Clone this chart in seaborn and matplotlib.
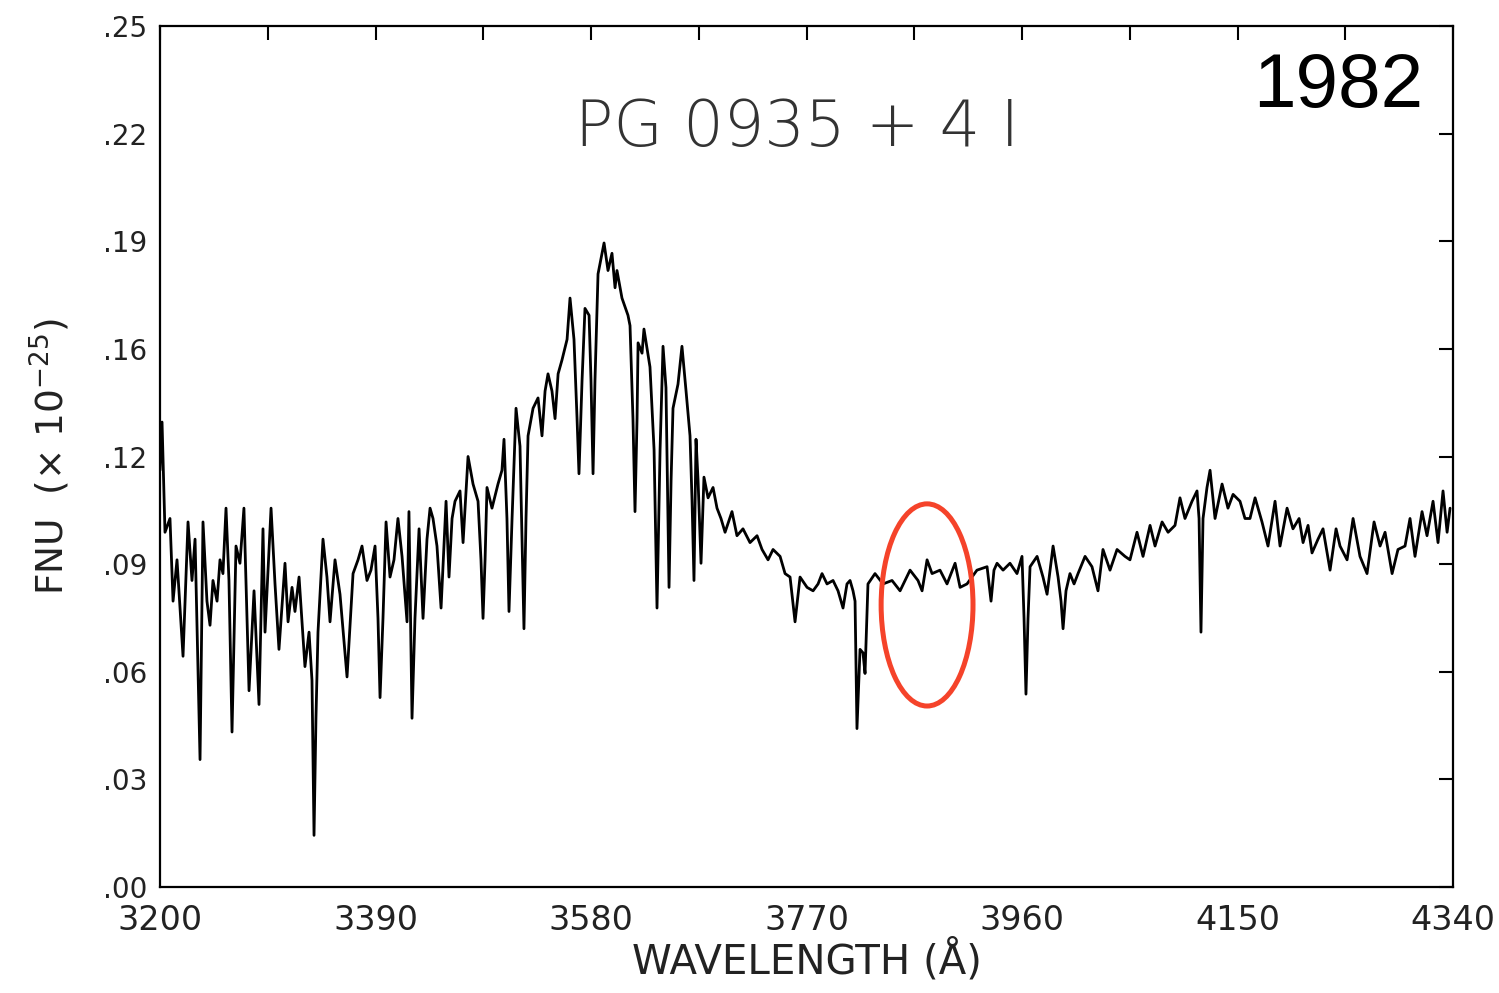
import numpy as np
import pandas as pd
import matplotlib
matplotlib.use("Agg")
import matplotlib.pyplot as plt
from matplotlib.patches import Ellipse
import seaborn as sns

# ---- data ----
wavelength = [
    3200.0, 3201.8, 3204.4, 3208.8, 3211.5, 3215.0, 3220.3, 3224.7, 3228.2, 3230.9,
    3235.3, 3237.9, 3241.4, 3244.1, 3246.7, 3250.3, 3252.9, 3255.5, 3258.2, 3260.8,
    3263.5, 3267.0, 3270.5, 3274.0, 3278.5, 3282.9, 3287.3, 3290.8, 3292.6, 3297.9,
    3301.4, 3304.9, 3310.2, 3312.9, 3316.4, 3319.0, 3322.6, 3327.8, 3331.4, 3334.0,
    3335.8, 3337.5, 3339.3, 3343.7, 3347.2, 3349.9, 3354.3, 3358.7, 3364.9, 3370.2,
    3374.6, 3378.1, 3382.5, 3386.0, 3389.6, 3392.2, 3394.0, 3396.6, 3399.3, 3402.8,
    3406.3, 3409.8, 3413.4, 3417.8, 3419.5, 3422.2, 3424.8, 3428.4, 3431.9, 3435.4,
    3438.1, 3440.7, 3444.2, 3447.8, 3452.2, 3454.8, 3457.5, 3460.1, 3464.5, 3467.2,
    3471.6, 3476.0, 3480.4, 3483.0, 3484.8, 3486.6, 3488.3, 3492.7, 3498.0, 3501.5,
    3503.3, 3505.9, 3507.7, 3510.4, 3513.9, 3517.4, 3519.2, 3520.9, 3522.7, 3524.5,
    3528.9, 3533.3, 3536.8, 3539.5, 3542.1, 3545.6, 3548.3, 3551.0, 3554.4, 3558.9,
    3561.5, 3565.0, 3567.7, 3569.4, 3572.1, 3574.7, 3578.3, 3580.0, 3581.8, 3583.5,
    3586.2, 3591.5, 3595.0, 3598.5, 3601.2, 3602.9, 3607.3, 3612.6, 3614.4, 3617.0,
    3618.8, 3620.6, 3621.5, 3625.0, 3626.7, 3632.0, 3635.6, 3638.2, 3640.9, 3643.5,
    3646.1, 3648.8, 3650.6, 3652.3, 3656.7, 3660.2, 3663.8, 3667.3, 3669.1, 3670.8,
    3672.6, 3674.4, 3677.0, 3679.6, 3683.2, 3687.6, 3691.1, 3694.6, 3698.2, 3704.3,
    3708.7, 3714.0, 3720.2, 3726.4, 3730.8, 3736.1, 3740.5, 3746.7, 3751.1, 3755.5,
    3759.9, 3764.3, 3770.5, 3775.8, 3780.2, 3783.7, 3788.1, 3793.4, 3797.8, 3802.2,
    3805.7, 3808.4, 3811.0, 3812.8, 3814.5, 3817.2, 3819.8, 3821.6, 3824.2, 3830.4,
    3837.5, 3845.4, 3852.5, 3861.3, 3868.3, 3871.9, 3876.3, 3880.7, 3887.7, 3893.9,
    3901.0, 3905.4, 3911.5, 3920.3, 3929.2, 3932.7, 3935.3, 3938.0, 3943.3, 3949.4,
    3955.6, 3960.0, 3961.8, 3963.5, 3965.3, 3967.1, 3973.3, 3978.5, 3982.1, 3987.4,
    3991.8, 3994.4, 3996.2, 3998.8, 4002.3, 4005.9, 4009.4, 4015.6, 4021.7, 4027.0,
    4031.4, 4037.6, 4043.8, 4050.8, 4055.2, 4061.4, 4066.7, 4072.9, 4077.3, 4083.5,
    4088.8, 4094.9, 4099.3, 4103.7, 4109.9, 4114.3, 4116.1, 4117.8, 4119.6, 4123.1,
    4125.8, 4130.2, 4136.4, 4141.6, 4146.1, 4152.2, 4156.6, 4161.0, 4165.5, 4171.6,
    4176.9, 4183.1, 4187.5, 4193.7, 4198.9, 4204.3, 4207.8, 4212.2, 4215.7, 4221.0,
    4225.4, 4231.6, 4236.9, 4240.4, 4246.6, 4251.9, 4258.0, 4264.2, 4270.4, 4275.7,
    4280.1, 4286.3, 4291.5, 4297.7, 4302.1, 4306.5, 4312.7, 4317.1, 4322.4, 4326.8,
    4331.2, 4334.8, 4337.4,
]
fnu = [
    0.121, 0.135, 0.103, 0.107, 0.083, 0.095, 0.067, 0.106, 0.089, 0.101,
    0.037, 0.106, 0.083, 0.076, 0.089, 0.083, 0.095, 0.091, 0.110, 0.089,
    0.045, 0.099, 0.094, 0.110, 0.057, 0.086, 0.053, 0.104, 0.074, 0.110,
    0.088, 0.069, 0.094, 0.077, 0.087, 0.080, 0.090, 0.064, 0.074, 0.060,
    0.015, 0.049, 0.074, 0.101, 0.090, 0.077, 0.095, 0.085, 0.061, 0.091,
    0.095, 0.099, 0.089, 0.092, 0.099, 0.078, 0.055, 0.078, 0.106, 0.090,
    0.095, 0.107, 0.096, 0.077, 0.109, 0.049, 0.078, 0.104, 0.078, 0.101,
    0.110, 0.107, 0.099, 0.081, 0.112, 0.090, 0.107, 0.112, 0.115, 0.100,
    0.125, 0.117, 0.112, 0.095, 0.078, 0.095, 0.116, 0.110, 0.117, 0.121,
    0.130, 0.107, 0.080, 0.107, 0.139, 0.128, 0.101, 0.075, 0.107, 0.131,
    0.139, 0.142, 0.131, 0.144, 0.149, 0.144, 0.136, 0.149, 0.153, 0.159,
    0.171, 0.159, 0.136, 0.120, 0.147, 0.168, 0.166, 0.147, 0.120, 0.147,
    0.178, 0.187, 0.179, 0.184, 0.174, 0.179, 0.171, 0.166, 0.163, 0.136,
    0.109, 0.136, 0.158, 0.155, 0.162, 0.151, 0.127, 0.081, 0.127, 0.157,
    0.145, 0.087, 0.118, 0.139, 0.146, 0.157, 0.144, 0.131, 0.112, 0.089,
    0.130, 0.118, 0.094, 0.119, 0.113, 0.116, 0.110, 0.107, 0.103, 0.109,
    0.102, 0.104, 0.100, 0.102, 0.098, 0.095, 0.098, 0.096, 0.091, 0.090,
    0.077, 0.090, 0.087, 0.086, 0.088, 0.091, 0.088, 0.089, 0.086, 0.081,
    0.088, 0.089, 0.086, 0.083, 0.046, 0.069, 0.068, 0.062, 0.088, 0.091,
    0.088, 0.089, 0.086, 0.092, 0.089, 0.086, 0.095, 0.091, 0.092, 0.088,
    0.094, 0.087, 0.088, 0.092, 0.093, 0.083, 0.092, 0.094, 0.092, 0.094,
    0.091, 0.096, 0.078, 0.056, 0.078, 0.093, 0.096, 0.090, 0.085, 0.099,
    0.090, 0.083, 0.075, 0.086, 0.091, 0.088, 0.091, 0.096, 0.093, 0.086,
    0.098, 0.092, 0.098, 0.096, 0.095, 0.103, 0.096, 0.105, 0.099, 0.106,
    0.103, 0.105, 0.113, 0.107, 0.112, 0.115, 0.107, 0.074, 0.107, 0.116,
    0.121, 0.107, 0.117, 0.110, 0.114, 0.112, 0.107, 0.107, 0.113, 0.106,
    0.099, 0.112, 0.099, 0.110, 0.104, 0.107, 0.100, 0.105, 0.097, 0.101,
    0.104, 0.092, 0.104, 0.099, 0.095, 0.107, 0.096, 0.091, 0.106, 0.099,
    0.103, 0.091, 0.098, 0.099, 0.107, 0.096, 0.109, 0.102, 0.112, 0.100,
    0.115, 0.103, 0.110,
]

x_ticks = [3200, 3295, 3390, 3485, 3580, 3675, 3770, 3865, 3960, 4055, 4150, 4245, 4340]
x_tick_labels = ["3200", "", "3390", "", "3580", "", "3770", "", "3960", "", "4150", "", "4340"]
y_ticks = [0.0, 0.03125, 0.0625, 0.09375, 0.125, 0.15625, 0.1875, 0.21875, 0.25]
y_tick_labels = [".00", ".03", ".06", ".09", ".12", ".16", ".19", ".22", ".25"]

title_text = "PG 0935 + 4 I"
year_text = "1982"

# highlighted region (ellipse) in data units
hl_center = (3876.3, 0.0819)
hl_width = 81.0
hl_height = 0.0587

df = pd.DataFrame({"wavelength": wavelength, "fnu": fnu})

sns.set_theme(style="white")
plt.rcParams["font.family"] = ["DejaVu Sans"]

fig = plt.figure(figsize=(14.99, 9.93), dpi=100)
ax = fig.add_axes([160 / 1499, 1 - 887 / 993, (1453 - 160) / 1499, (887 - 26) / 993])

sns.lineplot(data=df, x="wavelength", y="fnu", ax=ax, color="black",
             linewidth=2.0, estimator=None, sort=False)

ax.set_xlim(3200, 4340)
ax.set_ylim(0.0, 0.25)

ax.set_xticks(x_ticks)
ax.set_xticklabels(x_tick_labels)
ax.set_yticks(y_ticks)
ax.set_yticklabels(y_tick_labels)

ax.tick_params(axis="both", direction="in", length=10, width=1.5, color="black",
               top=True, right=True, labelcolor="#222222")
ax.tick_params(axis="x", labelsize=24, pad=12)
ax.tick_params(axis="y", labelsize=20, pad=9)

for s in ax.spines.values():
    s.set_visible(True)
    s.set_color("black")
    s.set_linewidth(1.6)

ax.set_xlabel("WAVELENGTH (Å)", fontsize=29, color="#222222", labelpad=2)
ax.set_ylabel("FNU  (× 10$^{-25}$)", fontsize=27, color="#222222", labelpad=22)

ax.text(0.4927, 0.8606, title_text, transform=ax.transAxes, ha="center",
        va="baseline", fontsize=46, color="#333333", fontweight="light")

fig.text(1423 / 1499, 1 - 107 / 993, year_text, ha="right", va="baseline",
         fontsize=55, color="black", family=["Liberation Sans", "DejaVu Sans"])

ell = Ellipse(hl_center, hl_width, hl_height, fill=False, edgecolor="#f5432a",
              linewidth=3.6, zorder=5)
ax.add_patch(ell)

fig.savefig("out.png", dpi=100)
